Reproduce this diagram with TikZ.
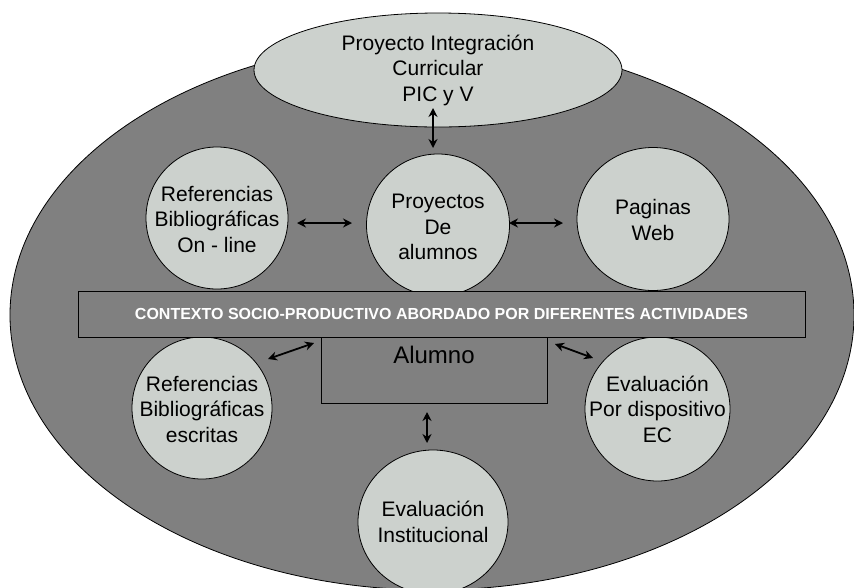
\documentclass[tikz,border=0pt]{standalone}
\usepackage{fontspec}
\setmainfont{Liberation Sans}
\usetikzlibrary{shapes.geometric,arrows.meta}
\definecolor{bgray}{RGB}{128,128,128}
\definecolor{lgray}{RGB}{204,209,205}
\begin{document}
\begin{tikzpicture}[x=1pt,y=-1pt,
 bubble/.style={ellipse,draw=black,line width=0.8pt,fill=lgray,inner sep=0pt},
 bubbletext/.style={inner sep=0pt,align=center,font=\fontsize{21}{25.5}\selectfont},
 boxstyle/.style={rectangle,draw=black,line width=0.8pt,fill=bgray,inner sep=0pt},
 dblarrow/.style={{Stealth[length=9pt,width=9pt]}-{Stealth[length=9pt,width=9pt]},line width=1.8pt},
]
\useasboundingbox (0,0) rectangle (854,587);
\clip (0,0) rectangle (854,587);
\fill[white] (0,0) rectangle (854,587);
\node[ellipse,draw=black,line width=0.8pt,fill=bgray,minimum width=844,minimum height=550,inner sep=0pt] (outer) at (432,315) {};
% bubbles
\node[bubble,minimum width=368,minimum height=114] (pic) at (438,70) {};
\node[bubble,minimum width=142,minimum height=142] (refon) at (217,218) {};
\node[bubble,minimum width=143,minimum height=142] (proy) at (438,225) {};
\node[bubble,minimum width=152,minimum height=143] (web) at (653,219) {};
\node[bubble,minimum width=140,minimum height=142] (refesc) at (202,408) {};
\node[bubble,minimum width=145,minimum height=144] (evalec) at (657.5,409) {};
\node[bubble,minimum width=150,minimum height=144] (evalinst) at (433,522) {};
% texts
\node[bubbletext] (pictxt) at (438,70) {Proyecto Integración\\Curricular\\PIC y V};
\node[bubbletext] (refontxt) at (217,219) {Referencias\\Bibliográficas\\On - line};
\node[bubbletext] (proytxt) at (438,227) {Proyectos\\De\\alumnos};
\node[bubbletext] (webtxt) at (653,220) {Paginas\\Web};
\node[bubbletext] (refesctxt) at (202,409) {Referencias\\Bibliográficas\\escritas};
\node[bubbletext] (evalectxt) at (657.5,409) {Evaluación\\Por dispositivo\\EC};
\node[bubbletext] (evalinsttxt) at (433,522) {Evaluación\\Institucional};
% band and student box
\node[boxstyle,minimum width=727,minimum height=46,text=white,font=\fontsize{16}{19}\selectfont\bfseries] (band) at (441.5,314) {CONTEXTO SOCIO-PRODUCTIVO ABORDADO POR DIFERENTES ACTIVIDADES};
\node[boxstyle,minimum width=226,minimum height=66] (alumno) at (434,370) {};
\node[font=\fontsize{24}{28}\selectfont,inner sep=0pt] (alumnolbl) at (434,355) {Alumno};
% arrows
\coordinate (a1s) at (433,108); \coordinate (a1e) at (433,148);
\coordinate (a2s) at (297,223); \coordinate (a2e) at (352,223);
\coordinate (a3s) at (509,223); \coordinate (a3e) at (563,223);
\coordinate (a4s) at (268,359); \coordinate (a4e) at (314,343);
\coordinate (a5s) at (555,344); \coordinate (a5e) at (593,358);
\coordinate (a6s) at (427,412); \coordinate (a6e) at (427,443);
\draw[dblarrow] (a1s) -- (a1e);
\draw[dblarrow] (a2s) -- (a2e);
\draw[dblarrow] (a3s) -- (a3e);
\draw[dblarrow] (a4s) -- (a4e);
\draw[dblarrow] (a5s) -- (a5e);
\draw[dblarrow] (a6s) -- (a6e);
\end{tikzpicture}
\end{document}
